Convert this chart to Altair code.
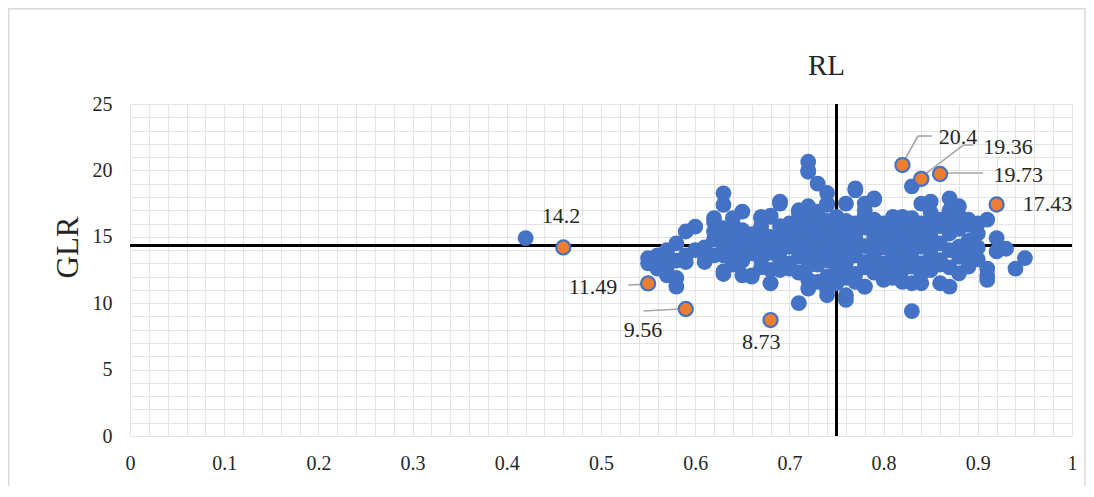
import altair as alt
import pandas as pd

# ---------------- data ----------------
# blue scatter, grouped by RL column (x) with GLR values (y)
col_rl = [0.42, 0.55, 0.56, 0.57, 0.58, 0.59, 0.60, 0.61, 0.62, 0.63, 0.64, 0.65,
          0.66, 0.67, 0.68, 0.69, 0.70, 0.71, 0.72, 0.73, 0.74, 0.75, 0.76, 0.77,
          0.78, 0.79, 0.80, 0.81, 0.82, 0.83, 0.84, 0.85, 0.86, 0.87, 0.88, 0.89,
          0.90, 0.91, 0.92, 0.93, 0.94, 0.95]
col_glr = [
    [14.9],
    [13.4, 13.0],
    [13.6, 12.6],
    [13.8, 12.75, 12.1, 14.0],
    [14.5, 11.9, 11.25, 13.2],
    [15.4, 13.6, 13.1],
    [15.76, 14.0],
    [14.2, 13.1, 13.6],
    [16.4, 15.4, 16.1, 13.6, 14.8],
    [18.27, 17.4, 15.1, 15.65, 13.6, 12.4, 14.3, 12.2],
    [16.4, 15.9, 14.6, 12.9, 13.9, 15.2],
    [16.9, 13.9, 14.6, 12.1, 15.5, 13.2],
    [13.75, 12.0, 14.5, 15.2, 12.1],
    [16.5, 15.8, 15.3, 13.25, 16.4, 15.5, 14.3, 12.7],
    [16.5, 14.75, 12.5, 11.5, 16.6, 13.8, 15.0, 11.5],
    [17.5, 15.8, 12.5, 13.25, 17.65, 14.5, 15.3, 13.9],
    [14.25, 16.0, 15.1, 13.0, 12.6, 14.8],
    [16.8, 17.0, 16.0, 10.0, 14.9, 13.5, 15.5, 12.3, 14.2],
    [19.9, 20.65, 20.0, 17.3, 16.3, 13.75, 11.75, 11.1, 15.2, 14.6, 16.6, 12.8, 15.8, 14.1],
    [19.0, 16.3, 13.5, 11.6, 15.5, 14.8, 16.9, 14.2, 12.9, 15.1],
    [18.3, 17.5, 17.4, 14.0, 12.0, 11.0, 10.6, 15.6, 14.7, 13.2, 16.2, 15.0],
    [11.5, 14.5, 15.4, 13.4, 12.6, 16.5, 14.1, 15.9],
    [17.5, 10.25, 12.5, 14.9, 13.8, 15.6, 11.9, 16.2, 13.0, 10.6],
    [18.65, 18.5, 14.4, 15.2, 12.2, 13.6, 16.0, 11.6, 14.9],
    [17.5, 11.25, 17.0, 15.7, 13.1, 14.3, 12.7, 16.6, 11.25],
    [17.9, 12.3, 17.8, 13.75, 15.5, 16.3, 14.6, 12.5, 15.0, 13.3],
    [11.75, 12.0, 14.2, 15.3, 16.0, 13.0, 14.8, 12.4],
    [16.5, 13.5, 15.0, 14.4, 12.8, 11.9, 15.8, 13.9],
    [16.5, 12.5, 14.25, 15.6, 13.2, 11.6, 14.8, 16.0],
    [18.8, 9.4, 11.5, 12.75, 15.0, 14.1, 13.4, 15.6, 16.4],
    [17.5, 11.5, 15.25, 14.25, 13.0, 16.0, 12.2, 14.7],
    [17.65, 15.75, 12.5, 14.0, 16.8, 13.5, 15.0],
    [13.25, 14.5, 11.5, 12.9, 15.8, 16.3],
    [17.9, 17.0, 15.25, 11.25, 14.0, 16.2, 12.7],
    [17.3, 14.25, 13.5, 12.25, 16.6, 15.6],
    [16.3, 12.75, 15.9, 14.7, 13.8],
    [15.25, 14.2, 16.0, 13.3],
    [16.3, 12.6, 11.75, 12.1],
    [14.9, 13.9],
    [14.1],
    [12.6],
    [13.4],
]

# highlighted (orange) points
hi_rl = [0.46, 0.55, 0.59, 0.68, 0.82, 0.84, 0.86, 0.92]
hi_glr = [14.2, 11.49, 9.56, 8.73, 20.4, 19.36, 19.73, 17.43]
hi_text = ["14.2", "11.49", "9.56", "8.73", "20.4", "19.36", "19.73", "17.43"]
# label anchor positions (data units)
lab_rl = [0.4575, 0.4915, 0.5446, 0.670, 0.879, 0.932, 0.943, 0.974]
lab_glr = [16.6, 11.22, 7.98, 7.08, 22.54, 21.78, 19.65, 17.47]

# leader line segments (data units)
seg_x = [0.8206, 0.8365, 0.8404, 0.8846, 0.865, 0.529, 0.545]
seg_y = [20.56, 22.59, 19.52, 21.91, 19.8, 11.37, 9.41]
seg_x2 = [0.8365, 0.851, 0.8846, 0.8953, 0.9055, 0.544, 0.584]
seg_y2 = [22.59, 22.59, 21.91, 21.91, 19.8, 11.42, 9.56]

# reference (mean) lines
rl_ref = 0.75
glr_ref = 14.35

x_min, x_max = 0.0, 1.0
y_min, y_max = 0.0, 25.0

# ---------------- frames ----------------
rows = []
for x, ys in zip(col_rl, col_glr):
    for y in ys:
        rows.append({"RL": x, "GLR": y})
blue_df = pd.DataFrame(rows)
hi_df = pd.DataFrame({"RL": hi_rl, "GLR": hi_glr, "txt": hi_text,
                      "lx": lab_rl, "ly": lab_glr})
seg_df = pd.DataFrame({"x": seg_x, "y": seg_y, "x2": seg_x2, "y2": seg_y2})
hline_df = pd.DataFrame({"x": [x_min], "x2": [x_max], "y": [glr_ref]})
vline_df = pd.DataFrame({"x": [rl_ref], "y": [y_min], "y2": [y_max]})
one_df = pd.DataFrame({"x": [rl_ref]})

FONT = "Liberation Serif"
TXT = "#262626"
GRID = "#E4E4E4"

xscale = alt.Scale(domain=[x_min, x_max], nice=False, zero=False)
yscale = alt.Scale(domain=[y_min, y_max], nice=False, zero=False)

x_vals = [round(i * 0.02, 2) for i in range(51)]
y_vals = list(range(26))

x_axis = alt.Axis(values=x_vals, title=None, grid=True, gridColor=GRID, gridWidth=1,
                  ticks=False, domain=False, labelFont=FONT, labelFontSize=20,
                  labelColor=TXT, labelPadding=17, labelFlush=False, labelOverlap=False,
                  labelExpr="abs(datum.value*10 - round(datum.value*10)) < 0.001 ? format(datum.value, '~g') : ''")
y_axis = alt.Axis(values=y_vals, title="GLR", grid=True, gridColor=GRID, gridWidth=1,
                  ticks=False, domain=False, labelFont=FONT, labelFontSize=20,
                  labelColor=TXT, labelPadding=18, labelFlush=False, labelOverlap=False,
                  labelExpr="datum.value % 5 == 0 ? format(datum.value, 'd') : ''",
                  titleFont=FONT, titleFontSize=31, titleFontWeight="normal",
                  titleColor=TXT, titleAngle=270, titleX=-62, titleY=143,
                  titleAlign="center", titleBaseline="middle")


def X(f):
    return alt.X(f, scale=xscale, axis=x_axis, title=None)


def Y(f):
    return alt.Y(f, scale=yscale, axis=y_axis, title="GLR")


hline = alt.Chart(hline_df).mark_rule(color="black", strokeWidth=3).encode(
    x=X("x:Q"), x2="x2:Q", y=Y("y:Q"),
)
vline = alt.Chart(vline_df).mark_rule(color="black", strokeWidth=3).encode(
    x=X("x:Q"), y=Y("y:Q"), y2="y2:Q",
)
blue = alt.Chart(blue_df).mark_circle(size=250, color="#4472C4", opacity=1).encode(
    x=X("RL:Q"), y=Y("GLR:Q"),
)
segs = alt.Chart(seg_df).mark_rule(color="#A6A6A6", strokeWidth=1.6).encode(
    x=X("x:Q"), y=Y("y:Q"), x2="x2:Q", y2="y2:Q",
)
orange = alt.Chart(hi_df).mark_point(size=200, filled=True, fill="#ED7D31", fillOpacity=1,
                                     stroke="#4472C4", strokeWidth=2.2, opacity=1).encode(
    x=X("RL:Q"), y=Y("GLR:Q"),
)
labels = alt.Chart(hi_df).mark_text(font=FONT, fontSize=22, color=TXT, align="center",
                                    baseline="middle").encode(
    x=X("lx:Q"), y=Y("ly:Q"), text="txt:N",
)
rl_title = alt.Chart(one_df).mark_text(text="RL", font=FONT, fontSize=29, color=TXT,
                                       align="center", baseline="middle", dx=-10).encode(
    x=X("x:Q"), y=alt.value(-38),
)
frame = alt.Chart(one_df).mark_rect(fill="transparent", stroke="#D9D9D9", strokeWidth=1.5).encode(
    x=alt.value(-121.3), x2=alt.value(955), y=alt.value(-95.3), y2=alt.value(420),
)

chart = alt.layer(frame, hline, vline, blue, segs, orange, labels, rl_title).properties(
    width=942, height=332,
    autosize=alt.AutoSizeParams(type="none"),
    padding={"left": 122, "top": 96, "right": 14, "bottom": 50},
    background="white",
).configure_view(stroke=None)

chart.save("out.html", embed_options={"renderer": "svg", "actions": False})
